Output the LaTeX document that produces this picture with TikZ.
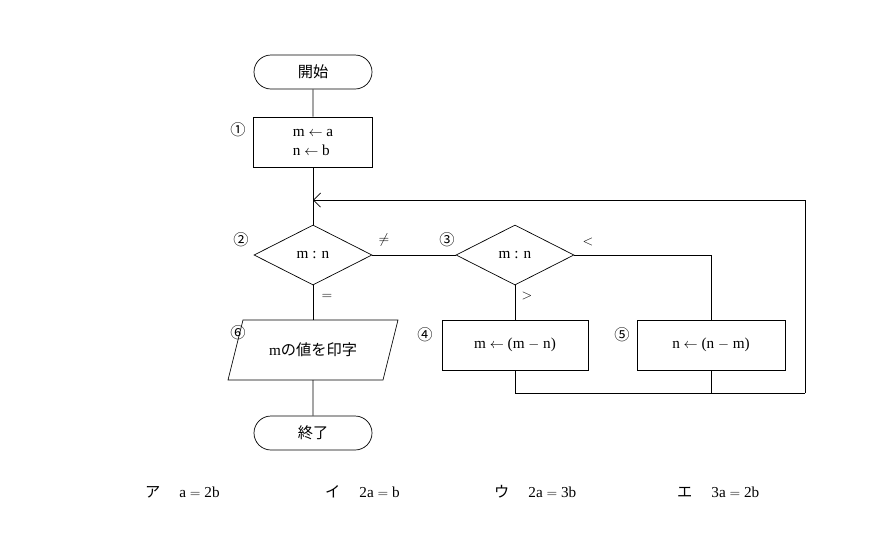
\documentclass[tikz,border=0pt]{standalone}
\usepackage{fontspec}
\setmainfont{Liberation Serif}
\newfontfamily\jp{Noto Sans CJK JP}
\usetikzlibrary{shapes.geometric,shapes.misc,arrows.meta}
\begin{document}
\begin{tikzpicture}[x=0.03cm,y=-0.03cm,font=\fontsize{13}{16}\selectfont,
    line/.style={draw, line width=0.6pt},
    term/.style={line, rounded rectangle, minimum width=3.54cm, minimum height=1.02cm, inner sep=0pt},
    proc/.style={line, rectangle, minimum height=1.5cm, inner sep=0pt},
    deci/.style={line, diamond, aspect=2, minimum width=3.54cm, minimum height=1.8cm, inner sep=0pt},
    io/.style={rectangle, minimum width=4.0cm, minimum height=1.8cm, inner sep=0pt},
    num/.style={font=\jp\fontsize{13}{16}\selectfont}]
\useasboundingbox (0,0) rectangle (894,551);
% shapes
\node[term] (start) at (313,72) {\jp 開始};
\node[proc, minimum width=3.57cm] (init) at (313,142) {\begin{tabular}{l}m $\leftarrow$ a\\ n $\leftarrow$ b\end{tabular}};
\node[deci] (cmpA) at (313,255) {m : n};
\node[deci] (cmpB) at (515,255) {m : n};
\node[proc, minimum width=4.38cm] (subM) at (515,345) {m $\leftarrow$ (m $-$ n)};
\node[proc, minimum width=4.44cm] (subN) at (711,345) {n $\leftarrow$ (n $-$ m)};
\node[io] (print) at (313,350) {m{\jp の値を印字}};
\draw[line] (243,320) -- (398,320) -- (383,380) -- (228,380) -- cycle;
\node[term] (stop) at (313,433) {\jp 終了};
\coordinate (loop) at (313,200);
\coordinate (rc) at (711,255);
\coordinate (bl) at (515,393);
\coordinate (br) at (805,393);
\coordinate (tr) at (805,200);
% connectors
\draw[line] (start) -- (init);
\draw[line] (init) -- (cmpA);
\draw[line] (cmpA) -- (print);
\draw[line] (print) -- (stop);
\draw[line] (cmpA) -- (cmpB);
\draw[line] (cmpB) -- (subM);
\draw[line] (cmpB.east) -- (rc) -- (subN);
\draw[line] (subM) -- (bl) -- (br);
\draw[line] (subN) -- (subN.south |- br);
\draw[line, -{Straight Barb[length=6pt,width=12pt]}] (br) -- (tr) -- (loop);
% labels
\node[num] at (238,130) {①};
\node[num] at (241,240) {②};
\node[num] at (447,240) {③};
\node[num] at (425,335) {④};
\node[num] at (622,335) {⑤};
\node[num] at (238,333) {⑥};
\node at (384,240) {$\neq$};
\node at (588,242) {$<$};
\node at (527,296) {$>$};
\node at (327,297) {$=$};
% choices
\node[anchor=west] at (141,492) {{\jp ア}\quad\ a $=$ 2b};
\node[anchor=west] at (321,492) {{\jp イ}\quad\ 2a $=$ b};
\node[anchor=west] at (490,492) {{\jp ウ}\quad\ 2a $=$ 3b};
\node[anchor=west] at (673,492) {{\jp エ}\quad\ 3a $=$ 2b};
\end{tikzpicture}
\end{document}
